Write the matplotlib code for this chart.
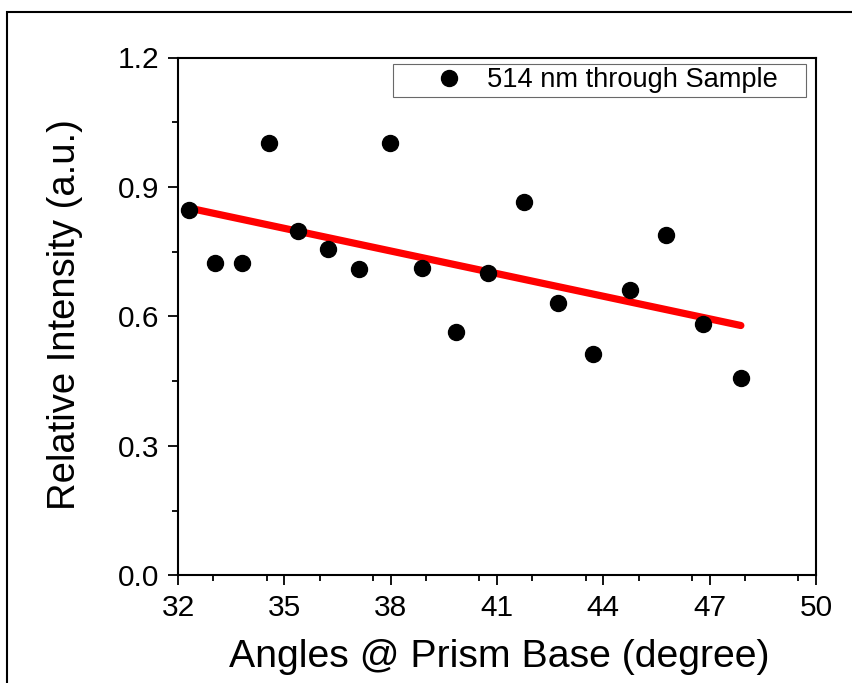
import matplotlib
matplotlib.use("Agg")
import matplotlib.pyplot as plt
from matplotlib.patches import Rectangle
from matplotlib.ticker import MultipleLocator

angles = [32.32, 33.05, 33.80, 34.58, 35.39, 36.24, 37.10, 37.98, 38.88,
          39.83, 40.76, 41.75, 42.71, 43.72, 44.74, 45.78, 46.81, 47.88]
intensity = [0.847, 0.723, 0.723, 1.002, 0.799, 0.756, 0.711, 1.002, 0.713,
             0.565, 0.700, 0.865, 0.631, 0.513, 0.662, 0.789, 0.583, 0.458]
fit_x = [32.32, 47.88]
fit_y = [0.851, 0.579]

xticks = [32, 35, 38, 41, 44, 47, 50]
yticks = [0.0, 0.3, 0.6, 0.9, 1.2]

plt.rcParams['font.family'] = ['Liberation Sans', 'DejaVu Sans']

fig = plt.figure(figsize=(8.52, 6.83), dpi=100)
W, H = 852, 683
ax_l, ax_r, ax_t, ax_b = 178, 816, 57.5, 575.4
ax = fig.add_axes([ax_l / W, 1 - ax_b / H, (ax_r - ax_l) / W, (ax_b - ax_t) / H])

ax.plot(fit_x, fit_y, color='#ff0000', lw=5.2, solid_capstyle='round', zorder=3)
ax.plot(angles, intensity, 'o', color='black', ms=11.5, zorder=4,
        label='514 nm through Sample')

ax.set_xlim(32, 50)
ax.set_ylim(0, 1.2)
ax.set_xticks(xticks)
ax.set_xticklabels([str(v) for v in xticks])
ax.set_yticks(yticks)
ax.set_yticklabels([f"{v:.1f}" for v in yticks])
ax.xaxis.set_minor_locator(MultipleLocator(1.5))
ax.yaxis.set_minor_locator(MultipleLocator(0.15))
ax.tick_params(which='major', direction='out', length=7.3, width=1.3,
               labelsize=21.5, pad=6)
ax.tick_params(which='minor', direction='out', length=4.3, width=1.3)
for s in ax.spines.values():
    s.set_linewidth(1.5)

ax.set_xlabel('Angles @ Prism Base (degree)', fontsize=28.3, va='baseline')
ax.xaxis.set_label_coords((499.5 - ax_l) / (ax_r - ax_l),
                          (ax_b - 667.3) / (ax_b - ax_t))
ax.set_ylabel('Relative Intensity (a.u.)', fontsize=27.5, va='baseline')
ax.yaxis.set_label_coords((75 - ax_l) / (ax_r - ax_l),
                          (ax_b - 315) / (ax_b - ax_t))

lx0, lx1, ly0, ly1 = 393, 806, 64, 97
leg = ax.legend(loc='upper left', fontsize=19.6, frameon=True, fancybox=False,
                edgecolor='#444444', borderpad=0.12, handletextpad=-0.55,
                handlelength=3.9, mode='expand',
                bbox_to_anchor=((lx0 - ax_l) / (ax_r - ax_l),
                                (ax_b - ly1) / (ax_b - ax_t),
                                (lx1 - lx0) / (ax_r - ax_l),
                                (ly1 - ly0) / (ax_b - ax_t)),
                borderaxespad=0.0)
leg.get_frame().set_linewidth(0.8)

fig.patches.append(Rectangle((7 / W, -0.1), 1.2, 1 - 12 / H + 0.1,
                             transform=fig.transFigure, fill=False,
                             edgecolor='black', linewidth=1.5))

fig.savefig('out.png', dpi=100)
